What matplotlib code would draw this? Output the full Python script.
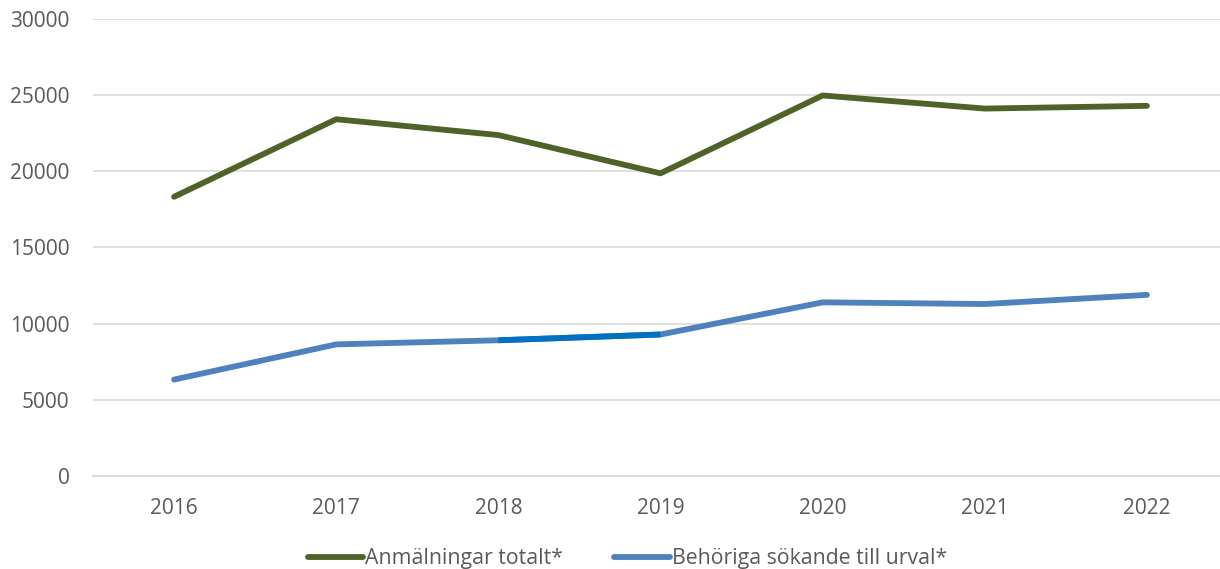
import matplotlib.pyplot as plt
from matplotlib.ticker import MultipleLocator

years = ["2016", "2017", "2018", "2019", "2020", "2021", "2022"]
anmalningar = [18330, 23420, 22380, 19870, 24980, 24120, 24300]
behoriga = [6330, 8640, 8910, 9290, 11400, 11290, 11890]

green = "#4F6228"
blue = "#4F81BD"
blue_dark = "#0070C0"  # single formatted segment 2018-2019
grid_col = "#D9D9D9"
text_col = "#595959"

plt.rcParams["font.family"] = ["Open Sans", "DejaVu Sans"]

fig = plt.figure(figsize=(12.2, 5.69), dpi=100)
ax = fig.add_axes([93 / 1220, 1 - 476 / 569, 1135 / 1220, 457 / 569])

x = list(range(len(years)))
ax.plot(x, anmalningar, color=green, lw=4.2, solid_capstyle="round",
        solid_joinstyle="round", label="Anmälningar totalt*", zorder=3)
ax.plot(x, behoriga, color=blue, lw=4.2, solid_capstyle="round",
        solid_joinstyle="round", label="Behöriga sökande till urval*", zorder=3)
ax.plot(x[2:4], behoriga[2:4], color=blue_dark, lw=4.2, solid_capstyle="butt", zorder=4)

ax.set_xlim(-0.5, len(years) - 0.5)
ax.set_ylim(0, 30000)
ax.yaxis.set_major_locator(MultipleLocator(5000))
ax.set_xticks(x)
ax.set_xticklabels(years)
ax.grid(axis="y", color=grid_col, lw=1.2)
ax.set_axisbelow(True)
for s in ["top", "right", "left"]:
    ax.spines[s].set_visible(False)
ax.spines["bottom"].set_color(grid_col)
ax.spines["bottom"].set_linewidth(1.2)
ax.tick_params(axis="both", length=0, labelsize=15, labelcolor=text_col)
ax.tick_params(axis="x", pad=16)
ax.tick_params(axis="y", pad=17)

leg = fig.legend(loc="center", bbox_to_anchor=(627.5 / 1220, 1 - 558.5 / 569), ncol=2,
                 frameon=False, fontsize=15.3, handlelength=2.6, handletextpad=0.1,
                 columnspacing=2.4, labelcolor=text_col)

fig.savefig("out.png", dpi=100)
